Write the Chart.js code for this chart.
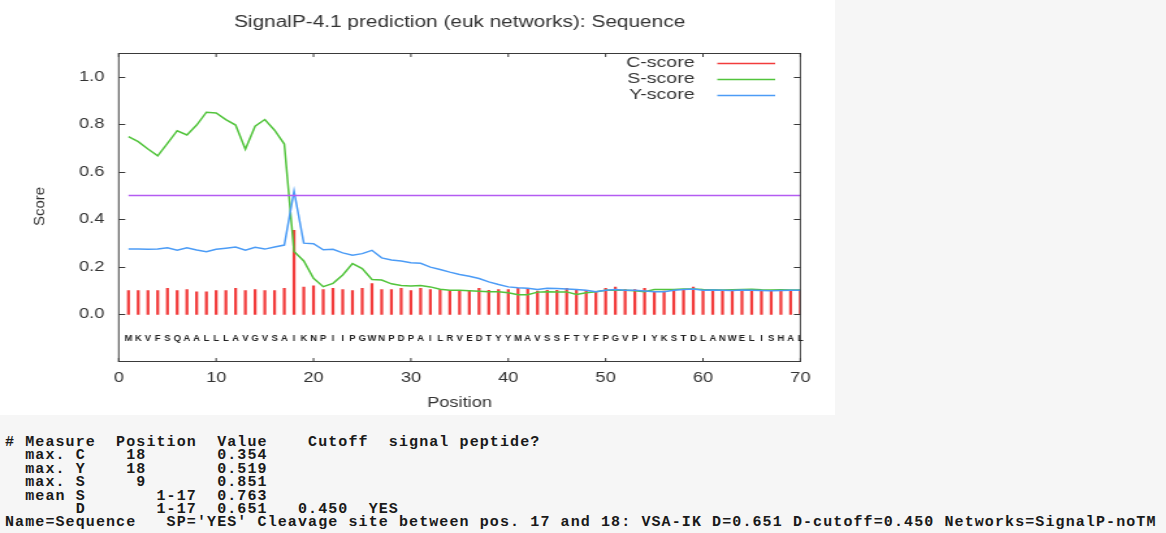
<!DOCTYPE html>
<html lang="en">
<head>
<meta charset="UTF-8">
<title>SignalP-4.1 prediction (euk networks): Sequence</title>
<script src="https://cdn.jsdelivr.net/npm/chart.js"></script>
<style>
  body { margin: 0; background: #f6f6f6; width: 1166px; height: 533px; overflow: hidden; position: relative; }
  #wrap { position: absolute; left: 0; top: 0; width: 835px; height: 415px; background: #fff; }
  #signalChart { transform: scaleX(1.3006); transform-origin: 0 0; }
  #report { position: absolute; left: 5px; top: 436px; margin: 0; font: bold 15px "Liberation Mono", monospace;
            letter-spacing: 1.1px; line-height: 13.4px; color: #1a1a1a; }
</style>
</head>
<body>
<div id="wrap"><canvas id="signalChart" width="642" height="415"></canvas></div>
<pre id="report"># Measure  Position  Value    Cutoff  signal peptide?
  max. C    18       0.354
  max. Y    18       0.519
  max. S     9       0.851
  mean S       1-17  0.763
       D       1-17  0.651   0.450  YES
Name=Sequence   SP='YES' Cleavage site between pos. 17 and 18: VSA-IK D=0.651 D-cutoff=0.450 Networks=SignalP-noTM</pre>
<script>
// sequence shown under the plot, one residue per position
const sequence = 'MKVFSQAALLLAVGVSAIKNPIIPGWNPDPAILRVEDTYYMAVSSFTYFPGVPIYKSTDLANWELISHAL'.split('');

const cScore = [
  0.100, 0.100, 0.100, 0.100, 0.110, 0.100, 0.105, 0.095, 0.095, 0.100,
  0.100, 0.110, 0.100, 0.105, 0.100, 0.100, 0.110, 0.354, 0.115, 0.120,
  0.105, 0.110, 0.105, 0.100, 0.110, 0.130, 0.105, 0.105, 0.110, 0.100,
  0.110, 0.105, 0.105, 0.102, 0.102, 0.102, 0.110, 0.102, 0.105, 0.105,
  0.110, 0.110, 0.098, 0.102, 0.102, 0.110, 0.105, 0.102, 0.094, 0.110,
  0.115, 0.105, 0.105, 0.110, 0.094, 0.098, 0.102, 0.102, 0.115, 0.100,
  0.105, 0.100, 0.100, 0.100, 0.105, 0.100, 0.100, 0.105, 0.100, 0.100
];
const sScore = [
  0.748, 0.727, 0.696, 0.667, 0.720, 0.773, 0.755, 0.797, 0.851, 0.848,
  0.820, 0.797, 0.695, 0.792, 0.820, 0.775, 0.717, 0.265, 0.225, 0.152,
  0.117, 0.131, 0.166, 0.214, 0.193, 0.147, 0.145, 0.129, 0.122, 0.120,
  0.122, 0.116, 0.106, 0.102, 0.102, 0.100, 0.098, 0.096, 0.096, 0.091,
  0.083, 0.083, 0.094, 0.096, 0.094, 0.095, 0.084, 0.091, 0.096, 0.102,
  0.102, 0.102, 0.100, 0.096, 0.105, 0.105, 0.105, 0.107, 0.107, 0.105,
  0.104, 0.103, 0.104, 0.105, 0.106, 0.104, 0.103, 0.104, 0.103, 0.103
];
const yScore = [
  0.275, 0.275, 0.274, 0.275, 0.281, 0.270, 0.281, 0.271, 0.264, 0.274,
  0.279, 0.284, 0.270, 0.283, 0.275, 0.284, 0.292, 0.519, 0.300, 0.298,
  0.272, 0.274, 0.259, 0.249, 0.256, 0.270, 0.238, 0.229, 0.225, 0.218,
  0.215, 0.199, 0.189, 0.178, 0.168, 0.161, 0.151, 0.137, 0.126, 0.116,
  0.112, 0.110, 0.105, 0.110, 0.109, 0.107, 0.105, 0.102, 0.096, 0.102,
  0.105, 0.102, 0.102, 0.099, 0.096, 0.096, 0.102, 0.105, 0.107, 0.102,
  0.103, 0.102, 0.101, 0.103, 0.102, 0.101, 0.100, 0.101, 0.102, 0.102
];
const cutoffLine = 0.5;
const xTickStep = 10;
const yTickValues = [0.0, 0.2, 0.4, 0.6, 0.8, 1.0];

const SX = 835 / 642;          // picture is stretched sideways
const FONT = '"Liberation Sans", Arial, sans-serif';
const RED = '#f23c3c', GREEN = '#52c43c', BLUE = '#4c9cf6', PURPLE = '#b45cf2';

const toPoints = arr => arr.map((v, i) => ({ x: i + 1, y: v }));

// gnuplot style frame with inward ticks on all four sides
const framePlugin = {
  id: 'frame',
  afterDatasetsDraw(chart) {
    const { ctx, chartArea: a, scales: { x, y } } = chart;
    ctx.save();
    ctx.strokeStyle = '#3a3a3a';
    ctx.lineWidth = 1;
    ctx.strokeRect(a.left, a.top + 0.5, a.width, a.height - 1);
    ctx.beginPath();
    y.ticks.forEach(t => {
      const py = Math.round(y.getPixelForValue(t.value)) + 0.5;
      ctx.moveTo(a.left, py); ctx.lineTo(a.left + 5, py);
      ctx.moveTo(a.right, py); ctx.lineTo(a.right - 5, py);
    });
    x.ticks.forEach(t => {
      const px = x.getPixelForValue(t.value);
      ctx.moveTo(px, a.bottom); ctx.lineTo(px, a.bottom - 4);
      ctx.moveTo(px, a.top); ctx.lineTo(px, a.top + 4);
    });
    ctx.stroke();
    ctx.restore();
  }
};

const sequencePlugin = {
  id: 'sequence',
  afterDatasetsDraw(chart) {
    const { ctx, scales: { x, y } } = chart;
    const py = y.getPixelForValue(-0.1);
    ctx.save();
    ctx.fillStyle = '#222';
    ctx.font = 'bold 9.5px ' + FONT;
    ctx.textAlign = 'center';
    ctx.textBaseline = 'middle';
    sequence.forEach((aa, i) => {
      ctx.save();
      ctx.translate(x.getPixelForValue(i + 1), py);
      ctx.scale(1 / SX, 1);
      ctx.fillText(aa, 0, 0);
      ctx.restore();
    });
    ctx.restore();
  }
};

const legendPlugin = {
  id: 'gnuLegend',
  afterDatasetsDraw(chart) {
    const { ctx } = chart;
    const items = [['C-score', RED], ['S-score', GREEN], ['Y-score', BLUE]];
    ctx.save();
    ctx.font = '15px ' + FONT;
    ctx.fillStyle = '#333';
    ctx.textAlign = 'right';
    ctx.textBaseline = 'middle';
    items.forEach(([name, color], i) => {
      const py = 62.5 + i * 16;
      ctx.fillText(name, 534, py);
      ctx.strokeStyle = color;
      ctx.lineWidth = 1.4;
      ctx.beginPath();
      ctx.moveTo(551.5, py + 1); ctx.lineTo(596, py + 1);
      ctx.stroke();
    });
    ctx.restore();
  }
};

const scoreTitlePlugin = {
  id: 'scoreTitle',
  afterDraw(chart) {
    const { ctx, chartArea: a } = chart;
    ctx.save();
    ctx.translate(31, (a.top + a.bottom) / 2 - 1);
    ctx.scale(1 / SX, 1);
    ctx.rotate(-Math.PI / 2);
    ctx.font = '15px ' + FONT;
    ctx.fillStyle = '#333';
    ctx.textAlign = 'center';
    ctx.textBaseline = 'middle';
    ctx.fillText('Score', 0, 0);
    ctx.restore();
  }
};

const ctx = document.getElementById('signalChart').getContext('2d');
const signalChart = new Chart(ctx, {
  type: 'line',
  data: {
    datasets: [
      { label: 'cutoff', data: [{ x: 1, y: cutoffLine }, { x: sequence.length, y: cutoffLine }],
        borderColor: PURPLE, borderWidth: 1.5, pointRadius: 0, order: 0 },
      { label: 'Y-score', data: toPoints(yScore), borderColor: BLUE, borderWidth: 1.5, pointRadius: 0, tension: 0, order: 1 },
      { label: 'S-score', data: toPoints(sScore), borderColor: GREEN, borderWidth: 1.5, pointRadius: 0, tension: 0, order: 2 },
      { type: 'bar', label: 'C-score', data: toPoints(cScore), backgroundColor: RED, barThickness: 1.6, order: 3 }
    ]
  },
  options: {
    responsive: false,
    animation: false,
    devicePixelRatio: 1,
    layout: { padding: { left: 0, right: 26.6, top: 0, bottom: 0 } },
    plugins: {
      legend: { display: false },
      tooltip: { enabled: false },
      title: {
        display: true, fullSize: false,
        text: 'SignalP-4.1 prediction (euk networks): Sequence',
        color: '#333', font: { family: FONT, size: 16, weight: 'normal' },
        padding: { top: 13, bottom: 20.8 }
      }
    },
    scales: {
      x: {
        type: 'linear', min: 0, max: 70, offset: false,
        grid: { display: false, drawTicks: false }, border: { display: false },
        ticks: { stepSize: xTickStep, color: '#333', font: { family: FONT, size: 14 }, padding: 8 },
        title: { display: true, text: 'Position', color: '#333', font: { family: FONT, size: 14 }, padding: { top: 0, bottom: 3 } },
        afterFit(s) { s.height = 53; }
      },
      y: {
        min: -0.2, max: 1.1,
        grid: { display: false, drawTicks: false }, border: { display: false },
        afterBuildTicks(s) { s.ticks = yTickValues.map(value => ({ value })); },
        ticks: { color: '#333', font: { family: FONT, size: 14 }, padding: 11, callback: v => v.toFixed(1) },
        afterFit(s) { s.width = 91.3; }
      }
    }
  },
  plugins: [framePlugin, sequencePlugin, legendPlugin, scoreTitlePlugin]
});
</script>
</body>
</html>
